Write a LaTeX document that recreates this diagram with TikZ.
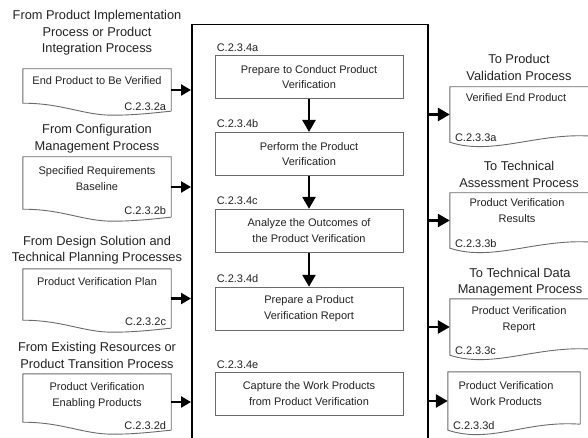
\documentclass[tikz,border=0pt]{standalone}
\usepackage{fontspec}
\setmainfont{Liberation Sans}
\usepackage{xcolor}
\usepackage{tikz}
\usetikzlibrary{arrows.meta}
\usetikzlibrary{positioning}

\definecolor{linegray}{HTML}{6A6A6A}
\definecolor{inkgray}{HTML}{222222}

% document outlines (wavy bottom)
\newcommand{\indoc}[1]{%
    \draw[doc line] (#1.south east) -- (#1.north east) -- (#1.north west) -- ([yshift=8pt]#1.south west)
        .. controls ([xshift=40pt,yshift=8pt]#1.south west) and ([xshift=60pt,yshift=-4pt]#1.south west) .. ([xshift=90pt,yshift=-4pt]#1.south west)
        .. controls ([xshift=115pt,yshift=-4pt]#1.south west) and ([xshift=-12pt,yshift=-1pt]#1.south east) .. (#1.south east);}
\newcommand{\outdoc}[1]{%
    \draw[doc line] ([yshift=6pt]#1.south east) -- (#1.north east) -- (#1.north west) -- (#1.south west)
        .. controls ([xshift=43pt,yshift=-14pt]#1.south west) and ([xshift=-55pt,yshift=10pt]#1.south east) .. ([yshift=6pt]#1.south east);}

\begin{document}
\begin{tikzpicture}[
        x=1pt, y=-1pt,
        inkgray,
        % 
        head node/.style={
            align=center,
            inner sep=1pt,
            font=\fontsize{12.8}{16.5}\selectfont,
        },
        % 
        in doc/.style={minimum width=148pt, inner sep=0pt},
        out doc/.style={minimum width=142pt, inner sep=0pt},
        doc line/.style={draw=linegray, line width=0.9pt},
        doc text/.style={align=center, inner sep=1pt, font=\fontsize{11}{16}\selectfont},
        code node/.style={inner sep=0pt, font=\fontsize{11}{13}\selectfont},
        % 
        step box/.style={
            draw=linegray,
            line width=0.9pt,
            minimum width=188pt,
            minimum height=43pt,
            align=center,
            font=\fontsize{11}{15.5}\selectfont,
        },
        frame box/.style={draw=black, line width=1.5pt, minimum width=236pt, minimum height=440pt},
        flow edge/.style={-{Triangle[length=12pt,width=13pt]}, line width=2.6pt, black},
        side edge/.style={-{Triangle[length=10pt,width=11pt]}, line width=2.6pt, black}
        ]
        
        \clip (0,0) rectangle (588,438);
        
        % Activities
        
        \node[frame box, anchor=north west] (frame) at (191,24) {};
        
        \node[step box] (stepA) at (309,77) {Prepare to Conduct Product\\Verification};
        \node[step box, below=33pt of stepA] (stepB) {Perform the Product\\Verification};
        \node[step box, below=33pt of stepB] (stepC) {Analyze the Outcomes of\\the Product Verification};
        \node[step box, below=34pt of stepC] (stepD) {Prepare a Product\\Verification Report};
        \node[step box, below=41pt of stepD] (stepE) {Capture the Work Products\\from Product Verification};
        
        \node[code node, anchor=base west] (codeA) at ([shift={(2pt,4pt)}]stepA.north west) {C.2.3.4a};
        \node[code node, anchor=base west] (codeB) at ([shift={(2pt,4pt)}]stepB.north west) {C.2.3.4b};
        \node[code node, anchor=base west] (codeC) at ([shift={(2pt,4pt)}]stepC.north west) {C.2.3.4c};
        \node[code node, anchor=base west] (codeD) at ([shift={(2pt,4pt)}]stepD.north west) {C.2.3.4d};
        \node[code node, anchor=base west] (codeE) at ([shift={(2pt,3pt)}]stepE.north west) {C.2.3.4e};
        
        % Inputs
        
        \node[in doc, minimum height=42pt] (inA) at (97,90) {};
        \indoc{inA}
        \node[head node, above=12pt of inA.north] (fromA) {From Product Implementation\\Process or Product\\Integration Process};
        \node[doc text, below=7pt of inA.north] (inA-text) {End Product to Be Verified};
        \node[code node, anchor=base east] (inA-code) at ([shift={(-5pt,1pt)}]inA.south east) {C.2.3.2a};
        
        \node[in doc, minimum height=60pt] (inB) at (97,187) {};
        \indoc{inB}
        \node[head node, above=2.5pt of inB.north] (fromB) {From Configuration\\Management Process};
        \node[doc text, below=9pt of inB.north] (inB-text) {Specified Requirements\\Baseline};
        \node[code node, anchor=base east] (inB-code) at ([shift={(-5pt,3pt)}]inB.south east) {C.2.3.2b};
        
        \node[in doc, minimum height=59pt] (inC) at (97,298.5) {};
        \indoc{inC}
        \node[head node, above=3pt of inC.north] (fromC) {From Design Solution and\\Technical Planning Processes};
        \node[doc text, below=8pt of inC.north] (inC-text) {Product Verification Plan};
        \node[code node, anchor=base east] (inC-code) at ([shift={(-5pt,3pt)}]inC.south east) {C.2.3.2c};
        
        \node[in doc, minimum height=56pt] (inD) at (97,402) {};
        \indoc{inD}
        \node[head node, above=4pt of inD.north] (fromD) {From Existing Resources or\\Product Transition Process};
        \node[doc text, below=8pt of inD.north] (inD-text) {Product Verification\\Enabling Products};
        \node[code node, anchor=base east] (inD-code) at ([shift={(-5pt,1pt)}]inD.south east) {C.2.3.2d};
        
        % Outputs
        
        \node[out doc, minimum height=55pt] (outA) at (521,114.5) {};
        \outdoc{outA}
        \node[head node, above=5pt of outA.north, xshift=-2pt] (toA) {To Product\\Validation Process};
        \node[doc text, below=6pt of outA.north, xshift=-5pt] (outA-text) {Verified End Product};
        \node[code node, anchor=base west] (outA-code) at ([shift={(5pt,1pt)}]outA.south west) {C.2.3.3a};
        
        \node[out doc, minimum height=55pt] (outB) at (521,220.5) {};
        \outdoc{outB}
        \node[head node, above=4pt of outB.north, xshift=-2pt] (toB) {To Technical\\Assessment Process};
        \node[doc text, below=5pt of outB.north, xshift=-4pt] (outB-text) {Product Verification\\Results};
        \node[code node, anchor=base west] (outB-code) at ([shift={(5pt,1pt)}]outB.south west) {C.2.3.3b};
        
        \node[out doc, minimum height=56pt] (outC) at (521,327) {};
        \outdoc{outC}
        \node[head node, above=1pt of outC.north, xshift=-1pt] (toC) {To Technical Data\\Management Process};
        \node[doc text, below=7pt of outC.north, xshift=-2pt] (outC-text) {Product Verification\\Report};
        \node[code node, anchor=base west] (outC-code) at ([shift={(5pt,1pt)}]outC.south west) {C.2.3.3c};
        
        \node[out doc, minimum width=132pt, minimum height=58pt] (outD) at (514,401) {};
        \outdoc{outD}
        \node[doc text, below=9pt of outD.north, xshift=-8pt] (outD-text) {Product Verification\\Work Products};
        \node[code node, anchor=base west] (outD-code) at ([shift={(5pt,1pt)}]outD.south west) {C.2.3.3d};
        
        % Edges
        
        \draw[flow edge] (stepA) -- (stepB);
        \draw[flow edge] (stepB) -- (stepC);
        \draw[flow edge] (stepC) -- (stepD);
        %
        \draw[side edge] (inA.east) -- (inA.east -| frame.west);
        \draw[side edge] (inB.east) -- (inB.east -| frame.west);
        \draw[side edge] (inC.east) -- (inC.east -| frame.west);
        \draw[side edge] (inD.east) -- (inD.east -| frame.west);
        %
        \draw[flow edge] (outA.west -| frame.east) -- (outA.west);
        \draw[flow edge] (outB.west -| frame.east) -- (outB.west);
        \draw[flow edge] (outC.west -| frame.east) -- (outC.west);
        \draw[flow edge] (outD.west -| frame.east) -- (outD.west);
        % 
    \end{tikzpicture}
\end{document}
